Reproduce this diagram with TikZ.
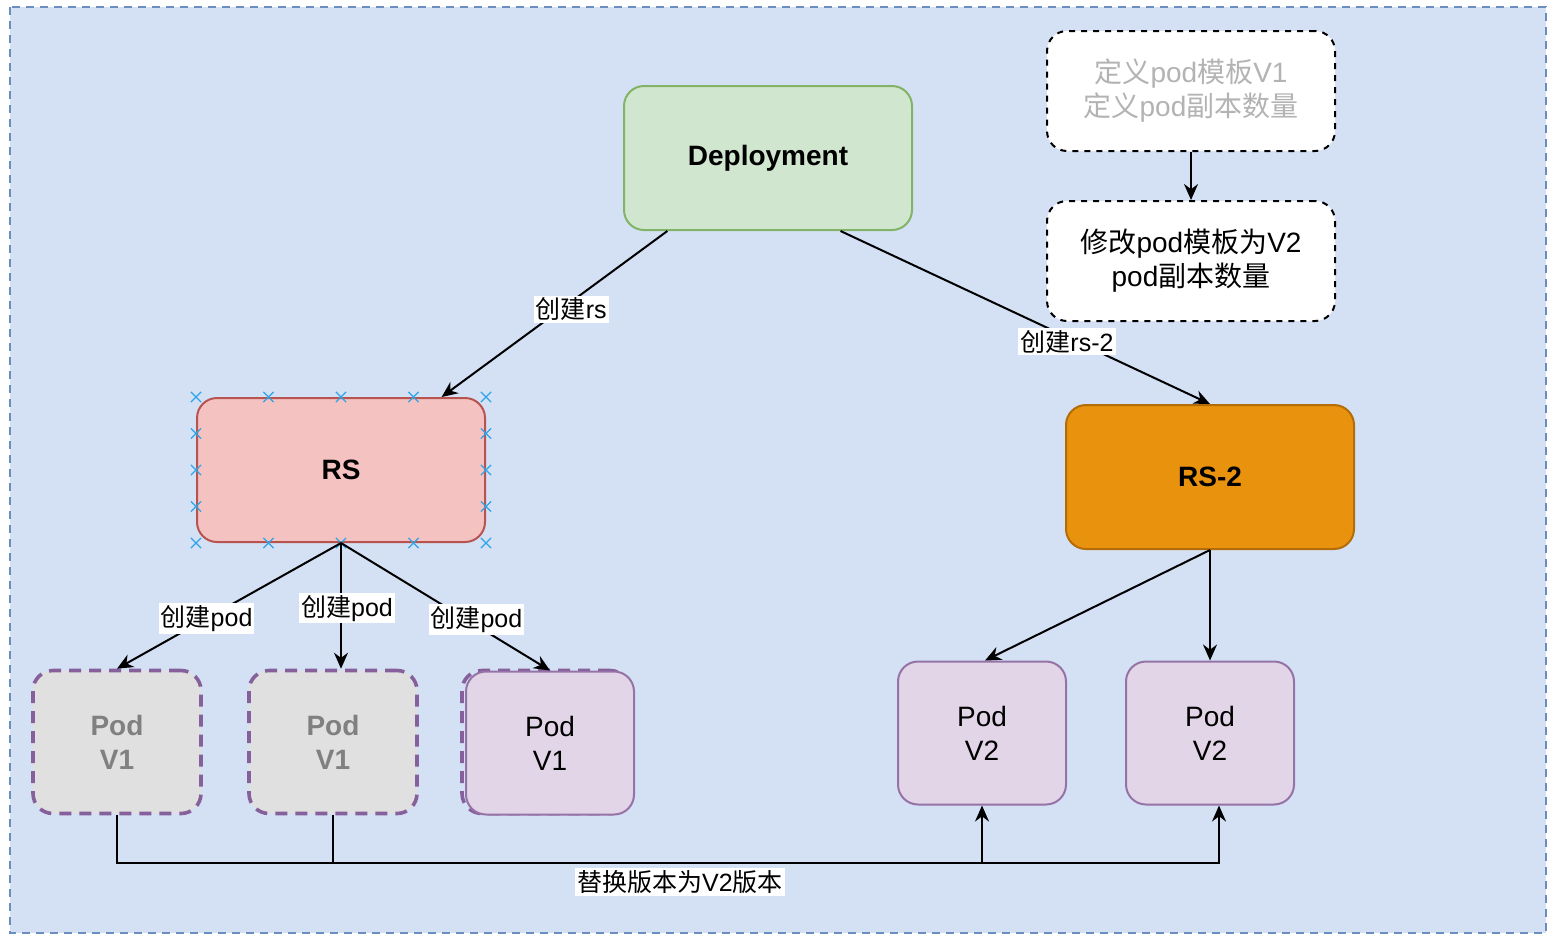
\documentclass[tikz,border=0pt]{standalone}
\usepackage{fontspec}
\setmainfont{Liberation Sans}
\newfontfamily\cjk{Noto Sans CJK SC}
\newcommand\zh[1]{{\cjk #1}}
\usetikzlibrary{arrows.meta,calc,shapes.misc}

\definecolor{canvasblue}{HTML}{D4E1F5}
\definecolor{canvasline}{HTML}{6C8EBF}
\definecolor{depfill}{HTML}{D0E6CF}
\definecolor{depline}{HTML}{82B366}
\definecolor{rsfill}{HTML}{F4C2C1}
\definecolor{rsline}{HTML}{B85450}
\definecolor{rstwofill}{HTML}{E8920E}
\definecolor{rstwoline}{HTML}{B46C06}
\definecolor{podfill}{HTML}{E1D5E7}
\definecolor{podline}{HTML}{9673A6}
\definecolor{oldline}{HTML}{86609A}
\definecolor{oldfill}{HTML}{E0E0E0}
\definecolor{oldtext}{HTML}{808080}
\definecolor{faded}{HTML}{B3B3B3}
\definecolor{xblue}{HTML}{2FA4E7}

\begin{document}
\begin{tikzpicture}[
  x=0.5pt, y=-0.5pt,
  arrow/.style={-{Stealth[length=8pt,width=7pt]}, line width=1pt},
  line/.style={line width=1pt},
  edgelabel/.style={fill=white, inner sep=1pt, font=\fontsize{12.5}{14}\selectfont},
  box/.style={rounded corners=10pt, line width=1pt, align=center, font=\fontsize{14}{17}\selectfont},
  bigbox/.style={box, minimum width=144pt, minimum height=72pt},
  notebox/.style={box, fill=white, draw=black, dashed, minimum width=144pt, minimum height=60pt},
  podbox/.style={box, minimum width=84pt, minimum height=71.5pt, fill=podfill, draw=podline},
  oldpod/.style={podbox, fill=oldfill, draw=oldline, text=oldtext, dash pattern=on 6pt off 4pt, line width=1.8pt, font=\fontsize{14}{17}\selectfont\bfseries},
  xmark/.style={cross out, draw=xblue, minimum size=4.5pt, inner sep=0pt, line width=0.6pt},
]

% === CANVAS ===
\useasboundingbox (0,0) rectangle (1550,938);
\draw[fill=canvasblue, draw=canvasline, dash pattern=on 4pt off 3pt, line width=1pt] (10,7) rectangle (1546,933);

% === TOP ROW ===
\node[bigbox, fill=depfill, draw=depline, font=\fontsize{14}{17}\selectfont\bfseries] (dep) at (768,158) {Deployment};
\node[notebox, text=faded] (tplone) at (1191,91) {\zh{定义}pod\zh{模板}V1\\\zh{定义}pod\zh{副本数量}};
\node[notebox] (tpltwo) at (1191,261) {\zh{修改}pod\zh{模板为}V2\\pod\zh{副本数量}};

% === REPLICA SETS ===
\node[bigbox, fill=rsfill, draw=rsline, font=\fontsize{14}{17}\selectfont\bfseries] (rs) at (341,470) {RS};
\node[bigbox, fill=rstwofill, draw=rstwoline, font=\fontsize{14}{17}\selectfont\bfseries] (rstwo) at (1210,477) {RS-2};

% selection handles round RS
\foreach \f in {0,0.25,0.5,0.75,1} {
  \path ($(rs.north west)!\f!(rs.north east)$) node[xmark] {};
  \path ($(rs.south west)!\f!(rs.south east)$) node[xmark] {};
}
\foreach \f in {0.25,0.5,0.75} {
  \path ($(rs.north west)!\f!(rs.south west)$) node[xmark] {};
  \path ($(rs.north east)!\f!(rs.south east)$) node[xmark] {};
}

% === PODS ===
\node[oldpod] (podone) at (117,742) {Pod\\V1};
\node[oldpod] (podtwo) at (333,742) {Pod\\V1};
\node[podbox, draw=oldline, fill=none, dash pattern=on 6pt off 4pt, line width=1.8pt] (podghost) at (546,742) {};
\node[podbox] (podthree) at (550,743) {Pod\\V1};
\node[podbox] (podfour) at (982,733) {Pod\\V2};
\node[podbox] (podfive) at (1210,733) {Pod\\V2};

% === CONNECTORS ===
\draw[arrow] (tplone) -- (tpltwo);
\draw[arrow] ($(dep.south west)!0.153!(dep.south east)$) -- ($(rs.north west)!0.847!(rs.north east)$)
  node[edgelabel, pos=0.47, xshift=5pt] {\zh{创建}rs};
\draw[arrow] ($(dep.south west)!0.75!(dep.south east)$) -- (rstwo.north)
  node[edgelabel, pos=0.64, xshift=-5pt] {\zh{创建}rs-2};

\draw[arrow] (rs.south) -- (podone.north) node[edgelabel, pos=0.6] {\zh{创建}pod};
\draw[arrow] (rs.south) -- (rs.south |- podtwo.north) node[edgelabel, pos=0.52, xshift=3pt] {\zh{创建}pod};
\draw[arrow] (rs.south) -- (podthree.north) node[edgelabel, pos=0.6, xshift=5pt] {\zh{创建}pod};

\draw[arrow] (rstwo.south) -- ($(podfour.north)+(3,0)$);
\draw[arrow] (rstwo.south) -- (podfive.north);

% === REPLACE V1 BY V2 ===
\coordinate (bus) at (0,863);
\draw[line] (podone.south) -- (podone.south |- bus) -- (podtwo.south |- bus);
\draw[line] (podtwo.south) -- (podtwo.south |- bus);
\draw[arrow] (podtwo.south |- bus) -- ($(podfive.south |- bus)+(9,0)$) -- ($(podfive.south)+(9,0)$);
\draw[arrow] (podfour.south |- bus) -- (podfour.south);
\node[edgelabel] (swap) at (680,882) {\zh{替换版本为}V2\zh{版本}};
\end{tikzpicture}
\end{document}
